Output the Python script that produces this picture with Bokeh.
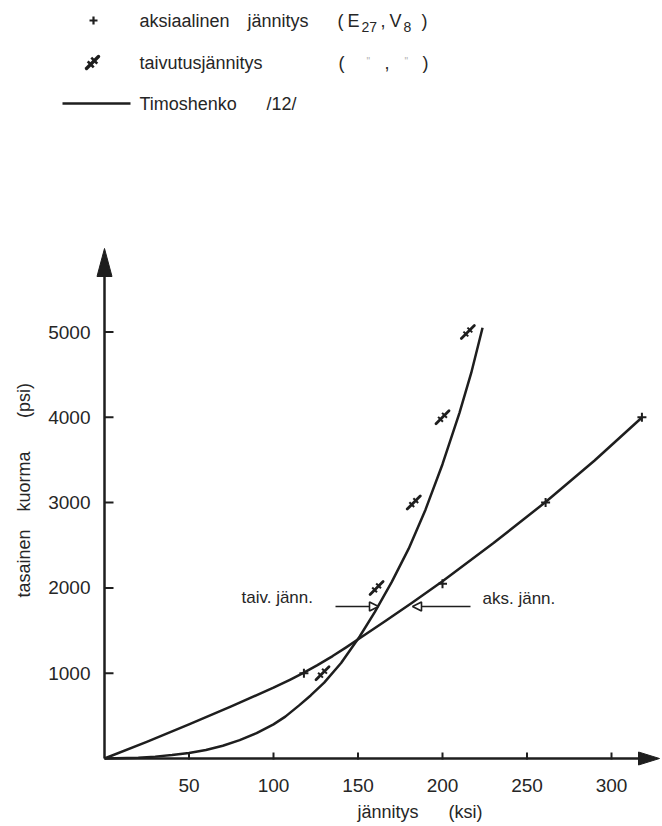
import numpy as np
from bokeh.plotting import figure
from bokeh.models import Range1d, Arrow, NormalHead
from bokeh.core.properties import value
from bokeh.embed import file_html
from bokeh.resources import INLINE

# ---------------- data ----------------
axial_stress = [118, 200, 261, 318]          # ksi, '+' markers
axial_load = [1000, 2050, 3000, 4000]        # psi
bending_stress = [129, 161, 183, 200, 215]   # ksi, double-cross markers
bending_load = [1000, 2000, 3000, 4000, 5000]

timo_axial_stress = [0, 25, 50, 75, 100, 110, 118, 126, 135, 143, 151, 166, 182,
                     200, 230, 261, 290, 318]
timo_axial_load = [0, 195, 400, 612, 830, 926, 1006, 1095, 1201, 1303, 1409, 1610, 1827,
                   2079, 2523, 3007, 3494, 3998]
timo_bend_stress = [0, 20, 30, 40, 50, 60, 70, 80, 90, 100, 107, 115, 122, 130, 140, 151,
                    160, 170, 180, 190, 200, 210, 217, 223.7]
timo_bend_load = [0, 10, 22, 40, 65, 100, 150, 215, 298, 400, 491, 620, 739, 890, 1120, 1430,
                  1720, 2070, 2460, 2920, 3450, 4050, 4520, 5050]

x_ticks = [50, 100, 150, 200, 250, 300]
y_ticks = [1000, 2000, 3000, 4000, 5000]
x_tick_labels = ["50", "100", "150", "200", "250", "300"]
y_tick_labels = ["1000", "2000", "3000", "4000", "5000"]

# ---------------- layout helpers ----------------
W, H = 660, 824
PX_PER_KSI = 1.69
PX_PER_PSI = 0.0853
X0, Y0 = 104.0, 758.0   # canvas position of the data origin


def X(px):
    return (px - X0) / PX_PER_KSI


def Y(py):
    return (Y0 - py) / PX_PER_PSI


def dX(px):
    return px / PX_PER_KSI


def dY(px):
    return px / PX_PER_PSI


INK = "#1e1e1e"
TXT = "#262626"
FONT = value("Liberation Sans")

p = figure(width=W, height=H, output_backend="svg", toolbar_location=None,
           x_range=Range1d(X(0), X(W)), y_range=Range1d(Y(H), Y(0)),
           x_axis_location=None, y_axis_location=None, min_border=0,
           background_fill_color="white", border_fill_color="white")
p.outline_line_color = None
p.xgrid.visible = False
p.ygrid.visible = False

# ---------------- axes with arrows ----------------
y_tip, y_base = Y(248), Y(276)
x_tip, x_base = X(659), X(638)
p.line([0, 0], [0, y_base], line_width=2.5, color=INK)
p.line([0, x_base], [0, 0], line_width=2.5, color=INK)
p.patch([-dX(7.5), 0, dX(7.5)], [y_base, y_tip, y_base], color=INK)
p.patch([x_base, x_tip, x_base], [-dY(6.5), 0, dY(6.5)], color=INK)

# ticks (inside)
p.segment(x0=x_ticks, y0=[-dY(1)] * len(x_ticks), x1=x_ticks, y1=[dY(6)] * len(x_ticks),
          line_width=2, color=INK)
p.segment(x0=[0] * len(y_ticks), y0=y_ticks, x1=[dX(9)] * len(y_ticks), y1=y_ticks,
          line_width=2, color=INK)

# tick labels
p.text(x=x_ticks, y=[Y(785)] * len(x_ticks), text=x_tick_labels, text_align="center",
       text_baseline="middle", text_font=FONT, text_font_size="19px", text_color=TXT)
p.text(x=[X(90)] * len(y_ticks), y=y_ticks, text=y_tick_labels, text_align="right",
       text_baseline="middle", text_font=FONT, text_font_size="19px", text_color=TXT)

# axis titles
p.text(x=[X(357), X(448)], y=[Y(811)] * 2, text=["jännitys", "(ksi)"], text_align="left",
       text_baseline="middle", text_font=FONT, text_font_size="18px", text_color=TXT)
p.text(x=[X(23)] * 3, y=[Y(563), Y(481), Y(400)], text=["tasainen", "kuorma", "(psi)"],
       angle=np.pi / 2, text_align="center", text_baseline="middle", text_font=FONT,
       text_font_size="18px", text_color=TXT)

# ---------------- Timoshenko curves ----------------
p.line(timo_axial_stress, timo_axial_load, line_width=2.5, color=INK, line_join="round")
p.line(timo_bend_stress, timo_bend_load, line_width=2.5, color=INK, line_join="round")


# ---------------- markers ----------------
def bend_marker(xs, ys, half=6.5, bar=2.4, gap=2.0, w_main=2.8, w_bar=2.0):
    xs = np.asarray(xs, dtype=float)
    ys = np.asarray(ys, dtype=float)
    # main slash: lower-left -> upper-right
    p.segment(x0=xs - dX(half), y0=ys - dY(half), x1=xs + dX(half), y1=ys + dY(half),
              line_width=w_main, color=INK, line_cap="round")
    # two short perpendicular cross bars
    for s in (-1, 1):
        cx = xs + s * dX(gap)
        cy = ys + s * dY(gap)
        p.segment(x0=cx - dX(bar), y0=cy + dY(bar), x1=cx + dX(bar), y1=cy - dY(bar),
                  line_width=w_bar, color=INK)


p.scatter(axial_stress, axial_load, marker="cross", size=9, line_width=2, line_color=INK)
bend_marker(bending_stress, bending_load)

# ---------------- annotation arrows ----------------
ya = Y(606)
p.add_layout(Arrow(x_start=X(335), y_start=ya, x_end=X(378), y_end=ya, line_width=1.6,
                   line_color=INK,
                   end=NormalHead(size=9, fill_color="white", line_color=INK, line_width=1.6)))
p.add_layout(Arrow(x_start=X(470), y_start=ya, x_end=X(412), y_end=ya, line_width=1.6,
                   line_color=INK,
                   end=NormalHead(size=9, fill_color="white", line_color=INK, line_width=1.6)))
p.text(x=[X(241), X(482)], y=[Y(597), Y(598)], text=["taiv. jänn.", "aks. jänn."],
       text_align="left", text_baseline="middle", text_font=FONT, text_font_size="17px",
       text_color=TXT)

# ---------------- legend ----------------
p.scatter([X(93)], [Y(20)], marker="cross", size=8, line_width=2.2, line_color=INK)
bend_marker([X(92)], [Y(62)], half=6, bar=3, gap=1.8, w_main=3.4, w_bar=2.6)
p.line([X(62), X(130)], [Y(103), Y(103)], line_width=2.5, color=INK)

p.text(x=[X(139), X(247), X(139), X(139), X(266)],
       y=[Y(20), Y(20), Y(62), Y(103), Y(103)],
       text=["aksiaalinen", "jännitys", "taivutusjännitys", "Timoshenko", "/12/"],
       text_align="left", text_baseline="middle", text_font=FONT, text_font_size="18px",
       text_color=TXT)
# ( E27 , V8 )
p.text(x=[X(337), X(347), X(380), X(389), X(421)], y=[Y(20)] * 5,
       text=["(", "E", ",", "V", ")"], text_align="left", text_baseline="middle",
       text_font=FONT, text_font_size="18px", text_color=TXT)
p.text(x=[X(361), X(403)], y=[Y(26), Y(26)], text=["27", "8"], text_align="left",
       text_baseline="middle", text_font=FONT, text_font_size="14px", text_color=TXT)
# ( " , " )
p.text(x=[X(338), X(384), X(422)], y=[Y(62)] * 3, text=["(", ",", ")"], text_align="left",
       text_baseline="middle", text_font=FONT, text_font_size="18px", text_color=TXT)
p.text(x=[X(366), X(404)], y=[Y(61), Y(61)], text=['"', '"'], text_align="left",
       text_baseline="middle", text_font=FONT, text_font_size="10px", text_color="#b0b0b0")

open("out.html", "w").write(file_html(p, INLINE))
